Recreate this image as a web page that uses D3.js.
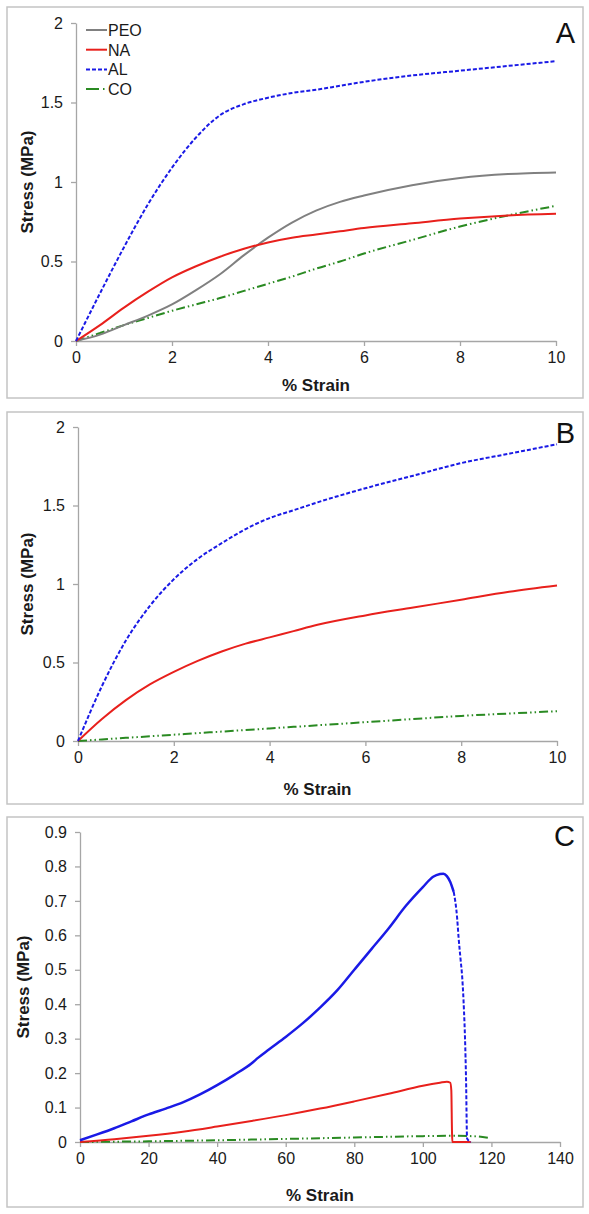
<!DOCTYPE html>
<html><head><meta charset="utf-8">
<script src="https://cdn.jsdelivr.net/npm/d3@7"></script>
<style>body{margin:0;background:#fff}svg{display:block}text{font-family:"Liberation Sans",Arial,sans-serif}</style>
</head><body>
<script>
// ---------- data ----------
const strainA = [0,0.5,1,1.5,2,2.5,3,3.5,4,4.5,5,5.5,6,7,8,9,10];
const peoA = [0,0.04,0.1,0.16,0.23,0.32,0.42,0.54,0.65,0.745,0.82,0.875,0.915,0.98,1.025,1.05,1.06];
const naA  = [0,0.1,0.21,0.31,0.40,0.47,0.53,0.58,0.62,0.65,0.67,0.69,0.71,0.74,0.77,0.79,0.80];
const alA  = [0,0.3,0.59,0.86,1.09,1.28,1.42,1.49,1.53,1.56,1.58,1.605,1.63,1.67,1.70,1.73,1.76];
const coA  = [0,0.05,0.10,0.145,0.19,0.23,0.27,0.315,0.36,0.405,0.455,0.50,0.55,0.635,0.72,0.79,0.85];

const strainB = [0,0.5,1,1.5,2,2.5,3,3.5,4,4.5,5,6,7,8,9,10];
const alB = [0,0.35,0.64,0.86,1.03,1.16,1.26,1.35,1.42,1.47,1.52,1.61,1.69,1.77,1.83,1.89];
const naB = [0,0.14,0.26,0.36,0.44,0.51,0.57,0.62,0.66,0.70,0.74,0.80,0.85,0.90,0.95,0.99];
const coB = [0,0.01,0.02,0.03,0.04,0.05,0.06,0.07,0.08,0.09,0.10,0.12,0.14,0.16,0.175,0.19];

const alCStrain = [0,5,10,15,20,25,30,35,40,45,50,52,55,60,65,70,75,80,85,90,95,100,103,105,106,107,108,109];
const alC       = [0.005,0.022,0.04,0.06,0.08,0.097,0.115,0.138,0.165,0.195,0.228,0.245,0.268,0.305,0.345,0.39,0.44,0.50,0.56,0.62,0.685,0.74,0.77,0.778,0.779,0.772,0.755,0.726];
const alDropStrain = [109,110,110.4,111,111.5,112,112.3,112.6,112.9,114];
const alDrop       = [0.726,0.65,0.596,0.53,0.475,0.38,0.30,0.18,0.01,0];
const naCStrain = [0,10,20,30,40,50,60,70,80,90,100,105,107,108,108.3,108.5,108.6,114];
const naC       = [0,0.008,0.018,0.03,0.045,0.061,0.078,0.097,0.118,0.14,0.163,0.172,0.175,0.172,0.15,0.03,0,0];
const coCStrain = [0,20,40,60,80,100,110,116,119];
const coC       = [0,0.002,0.005,0.009,0.013,0.017,0.018,0.016,0.012];

const ticksX10 = [0,2,4,6,8,10];
const ticksY2 = [0,0.5,1,1.5,2];
const ticksX140 = [0,20,40,60,80,100,120,140];
const ticksY09 = [0,0.1,0.2,0.3,0.4,0.5,0.6,0.7,0.8,0.9];
const tickLabY09 = ["0","0.1","0.2","0.3","0.4","0.5","0.6","0.7","0.8","0.9"];
const legendNames = ["PEO","NA","AL","CO"];

// ---------- styles ----------
const STY = {
  PEO:{color:"#808080",dash:null,w:2},
  NA:{color:"#e8201c",dash:null,w:2},
  AL:{color:"#1a1ae6",dash:"4,2",w:2},
  ALs:{color:"#1a1ae6",dash:null,w:2.5},
  CO:{color:"#2a8a22",dash:"9,3,1.5,3,1.5,3",w:2}
};

const svg = d3.select("body").append("svg").attr("width",589).attr("height",1214);
svg.append("rect").attr("width",589).attr("height",1214).attr("fill","#fff");

function panel(o){
  const g = svg.append("g");
  g.append("rect").attr("x",o.box[0]).attr("y",o.box[1]).attr("width",o.box[2]-o.box[0]).attr("height",o.box[3]-o.box[1])
    .attr("fill","none").attr("stroke","#c4c4c4").attr("stroke-width",1.5);
  const x = d3.scaleLinear().domain(o.xd).range([o.x0,o.x1]);
  const y = d3.scaleLinear().domain(o.yd).range([o.y0,o.y1]);
  const ax = g.append("g").attr("transform",`translate(0,${o.y0})`)
    .call(d3.axisBottom(x).tickValues(o.xt).tickSize(5).tickSizeOuter(0).tickPadding(6).tickFormat(d3.format("~g")));
  const ay = g.append("g").attr("transform",`translate(${o.x0},0)`)
    .call(d3.axisLeft(y).tickValues(o.yt).tickSize(5).tickSizeOuter(0).tickPadding(8)
      .tickFormat((d,i)=> o.ytl ? o.ytl[i] : d3.format("~g")(d)));
  [ax,ay].forEach(a=>{
    a.select(".domain").attr("stroke","#a6a6a6").attr("stroke-width",1.3);
    a.selectAll(".tick line").attr("stroke","#a6a6a6").attr("stroke-width",1.3);
    a.selectAll(".tick text").attr("fill","#1a1a1a").attr("font-size",16).attr("font-family","Liberation Sans, Arial, sans-serif");
  });
  g.append("text").attr("x",(o.x0+o.x1)/2).attr("y",o.xlabY).attr("text-anchor","middle")
    .attr("font-size",17).attr("font-weight","bold").attr("fill","#1a1a1a").text("% Strain");
  g.append("text").attr("transform",`translate(${o.ylabX},${(o.y0+o.y1)/2}) rotate(-90)`).attr("text-anchor","middle")
    .attr("dominant-baseline","central").attr("font-size",17).attr("font-weight","bold").attr("fill","#1a1a1a").text("Stress (MPa)");
  g.append("text").attr("x",o.box[2]-8).attr("y",o.letY).attr("text-anchor","end").attr("font-size",29).attr("fill","#111").text(o.letter);
  const line = d3.line().x(d=>x(d[0])).y(d=>y(d[1])).curve(d3.curveMonotoneX);
  o.series.forEach(s=>{
    const st = STY[s.style];
    g.append("path").datum(d3.zip(s.xs,s.ys)).attr("d",line).attr("fill","none")
      .attr("stroke",st.color).attr("stroke-width",st.w).attr("stroke-dasharray",st.dash)
      .attr("stroke-linejoin","round");
  });
  return g;
}

const gA = panel({box:[7,7,583,398],x0:76,x1:556,y0:341,y1:23,xd:[0,10],yd:[0,2],xt:ticksX10,yt:ticksY2,
  xlabY:391,ylabX:27,letY:43,letter:"A",
  series:[{xs:strainA,ys:coA,style:"CO"},{xs:strainA,ys:peoA,style:"PEO"},{xs:strainA,ys:naA,style:"NA"},{xs:strainA,ys:alA,style:"AL"}]});

// legend
legendNames.forEach((n,i)=>{
  const st = STY[n]; const yy = 30 + i*19.7;
  gA.append("line").attr("x1",86).attr("x2",107).attr("y1",yy).attr("y2",yy)
    .attr("stroke",st.color).attr("stroke-width",2).attr("stroke-dasharray",n==="CO"?"13,4,1.5,3":st.dash);
  gA.append("text").attr("x",108).attr("y",yy+6).attr("font-size",16).attr("fill","#1a1a1a").text(n);
});

panel({box:[7,412,583,804],x0:78,x1:557,y0:741,y1:427,xd:[0,10],yd:[0,2],xt:ticksX10,yt:ticksY2,
  xlabY:795,ylabX:27,letY:443,letter:"B",
  series:[{xs:strainB,ys:coB,style:"CO"},{xs:strainB,ys:naB,style:"NA"},{xs:strainB,ys:alB,style:"AL"}]});

panel({box:[7,817,583,1207],x0:80,x1:560,y0:1142,y1:832,xd:[0,140],yd:[0,0.9],xt:ticksX140,yt:ticksY09,ytl:tickLabY09,
  xlabY:1201,ylabX:23,letY:846,letter:"C",
  series:[{xs:coCStrain,ys:coC,style:"CO"},{xs:naCStrain,ys:naC,style:"NA"},{xs:alDropStrain,ys:alDrop,style:"AL"},{xs:alCStrain,ys:alC,style:"ALs"}]});
</script>
</body></html>
